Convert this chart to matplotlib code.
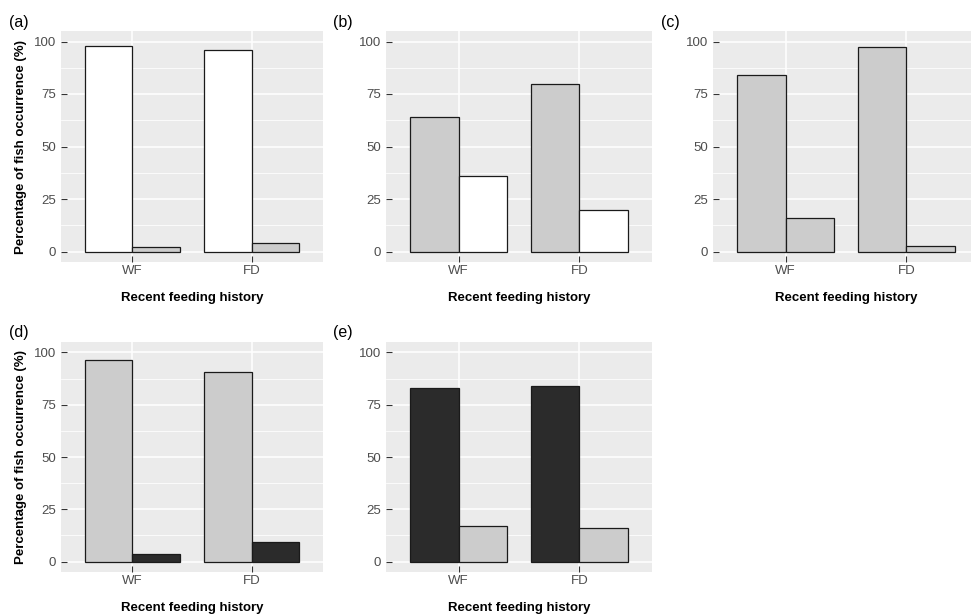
import matplotlib.pyplot as plt
import numpy as np

plt.rcParams["font.family"] = ["Liberation Sans", "DejaVu Sans"]

# data
categories = ["WF", "FD"]
panel_labels = ["(a)", "(b)", "(c)", "(d)", "(e)"]
first_vals = [[98, 96], [64, 80], [84, 97.5], [96.2, 90.6], [83.2, 83.8]]
second_vals = [[2, 4], [36, 20], [16, 2.5], [3.8, 9.5], [16.8, 16.2]]
yticks = [0, 25, 50, 75, 100]

WHITE, GREY, DARK = "#FFFFFF", "#CCCCCC", "#2B2B2B"
fills = [(WHITE, GREY), (GREY, WHITE), (GREY, GREY), (GREY, DARK), (DARK, GREY)]

W, H = 971, 615
fig = plt.figure(figsize=(W / 100, H / 100), dpi=100)

# panel boxes in pixels: left, top, width, height
boxes = [(61, 31, 262, 231), (386, 31, 266, 231), (713, 31, 266, 231),
         (61, 342, 262, 230), (386, 342, 266, 230)]
label_x = [19, 343, 670, 19, 343]

for i, (l, t, w, h) in enumerate(boxes):
    ax = fig.add_axes([l / W, 1 - (t + h) / H, w / W, h / H])
    ax.set_facecolor("#EBEBEB")
    x = np.arange(1, len(categories) + 1)
    bw = 0.4
    ax.bar(x - bw / 2, first_vals[i], width=bw, color=fills[i][0],
           edgecolor="#1a1a1a", linewidth=0.9, zorder=3)
    ax.bar(x + bw / 2, second_vals[i], width=bw, color=fills[i][1],
           edgecolor="#1a1a1a", linewidth=0.9, zorder=3)
    ax.set_xlim(0.4, 2.6)
    ax.set_ylim(-5, 105)
    ax.set_xticks(x)
    ax.set_xticklabels(categories)
    ax.set_yticks(yticks)
    ax.set_yticks([12.5, 37.5, 62.5, 87.5], minor=True)
    ax.grid(True, which="major", color="white", linewidth=1.1, zorder=0)
    ax.grid(True, which="minor", axis="y", color="white", linewidth=0.55, zorder=0)
    ax.set_axisbelow(True)
    for s in ax.spines.values():
        s.set_visible(False)
    ax.tick_params(axis="both", which="major", direction="in", length=4,
                   width=0.8, color="#333333", labelcolor="#4D4D4D",
                   labelsize=9.5)
    ax.tick_params(axis="x", pad=2.2)
    ax.tick_params(axis="y", pad=3.4)
    ax.tick_params(axis="both", which="minor", length=0)
    ax.set_xlabel("Recent feeding history", fontweight="bold", fontsize=9.5,
                  labelpad=11)
    if i in (0, 3):
        ax.set_ylabel("Percentage of fish occurrence (%)", fontweight="bold",
                      fontsize=9.5, labelpad=5)
    fig.text(label_x[i] / W, 1 - (t - 9) / H, panel_labels[i], fontsize=11.5,
             va="center", ha="center")

fig.savefig("out.png", dpi=100, facecolor="white")
